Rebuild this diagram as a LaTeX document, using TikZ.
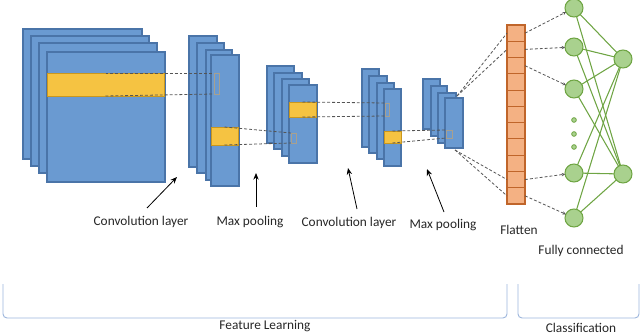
\documentclass[tikz,border=0pt]{standalone}
\usepackage{fontspec}
\setmainfont{Carlito}
\usetikzlibrary{arrows.meta,calc}
\definecolor{lblue}{HTML}{6A9AD1}
\definecolor{dblue}{HTML}{4A74A8}
\definecolor{yfill}{HTML}{F5C342}
\definecolor{ydraw}{HTML}{C9971E}
\definecolor{ofill}{HTML}{F4B183}
\definecolor{odraw}{HTML}{C0652A}
\definecolor{gfill}{HTML}{A9D18E}
\definecolor{gdraw}{HTML}{6FA544}
\definecolor{brk}{HTML}{9DB6DC}
\definecolor{hol}{HTML}{A8A08F}
\definecolor{dashc}{HTML}{555555}
\newcommand\pxbox[6]{\node[#1,anchor=north west,minimum width={(#5-#3)*0.75pt},minimum height={(#6-#4)*0.75pt}] (#2) at (#3,#4) {};}
\tikzset{
  map/.style={draw=dblue, fill=lblue, line width=0.8pt, inner sep=0pt, outer sep=0pt},
  band/.style={draw=ydraw, fill=yfill, line width=0.6pt, inner sep=0pt, outer sep=0pt},
  hollow/.style={draw=hol, line width=0.6pt, inner sep=0pt, outer sep=0pt},
  cell/.style={draw=odraw, fill=ofill, line width=0.8pt, inner sep=0pt, outer sep=0pt},
  neuron/.style={circle, draw=gdraw, fill=gfill, line width=0.8pt, minimum size=13.5pt, inner sep=0pt, outer sep=0pt},
  dotn/.style={circle, draw=gdraw, fill=gfill, line width=0.6pt, minimum size=3.5pt, inner sep=0pt},
  link/.style={draw=dashc, line width=0.6pt, dash pattern=on 2.2pt off 1.5pt},
  linkarr/.style={link, -{Stealth[length=2.5pt,width=2.5pt]}},
  syn/.style={draw=gdraw, line width=0.8pt},
  lbl/.style={font=\fontsize{10}{12}\selectfont, text=black!85, inner sep=0pt},
  ptr/.style={-{Stealth[length=5pt,width=4pt]}, line width=0.6pt},
  bracketline/.style={draw=brk, line width=0.7pt, rounded corners=3pt}
}
\begin{document}
\begin{tikzpicture}[x=0.75pt,y=-0.75pt]
\useasboundingbox (0,0) rectangle (640,335);
% stack 1
\pxbox{map}{a1}{23}{29}{142}{159}
\pxbox{map}{a2}{31}{36}{149}{166}
\pxbox{map}{a3}{39}{43}{157}{173}
\pxbox{map}{a4}{47}{52}{165}{182}
\pxbox{band}{ya}{47}{73}{164}{96}
% stack 2
\pxbox{map}{b1}{189}{36}{217}{167}
\pxbox{map}{b2}{197}{43}{224}{173}
\pxbox{map}{b3}{206}{50}{232}{180}
\pxbox{map}{b4}{211}{55}{239}{186}
\pxbox{hollow}{hb}{214}{73}{219}{94}
\pxbox{band}{yb}{211}{127}{238}{145}
% stack 3
\pxbox{map}{c1}{267}{66}{294}{143}
\pxbox{map}{c2}{274}{73}{302}{149}
\pxbox{map}{c3}{282}{79}{309}{156}
\pxbox{map}{c4}{289}{85}{317}{163}
\pxbox{band}{yc}{289}{102}{316}{117}
\pxbox{hollow}{hc}{291}{133}{296}{143}
% stack 4
\pxbox{map}{d1}{362}{69}{379}{147}
\pxbox{map}{d2}{369}{76}{387}{153}
\pxbox{map}{d3}{377}{83}{394}{159}
\pxbox{map}{d4}{384}{89}{401}{166}
\pxbox{hollow}{hd}{385}{103}{389}{116}
\pxbox{band}{yd}{384}{131}{401}{143}
% stack 5
\pxbox{map}{e1}{423}{79}{440}{129}
\pxbox{map}{e2}{431}{86}{447}{136}
\pxbox{map}{e3}{438}{93}{456}{143}
\pxbox{map}{e4}{445}{98}{463}{148}
\pxbox{hollow}{he}{446}{130}{452}{138}
% dashed projections
\draw[link] (ya.north) -- (hb.north west);
\draw[link] (ya.south) -- (hb.south west);
\draw[link] (yb.north) -- (hc.north west);
\draw[link] (yb.south) -- (hc.south west);
\draw[link] (yc.north) -- (hd.north west);
\draw[link] (yc.south) -- (hd.south west);
\draw[link] (yd.north) -- (he.north west);
\draw[link] (yd.south) -- (he.south west);
% flatten
\foreach \i in {1,...,11}{
  \pgfmathsetmacro\ya{25+(\i-1)*16.27}
  \pgfmathsetmacro\yb{25+\i*16.27}
  \pxbox{cell}{f\i}{507}{\ya}{525}{\yb}
}
\coordinate (s5top) at (457,96);
\coordinate (s5bot) at (455,150);
\draw[link] (s5top) -- (f1.west);
\draw[link] (s5top) -- (f2.west);
\draw[link] (s5bot) -- (f10.west);
\draw[link] (s5bot) -- (f11.west);
% neurons
\node[neuron] (n1) at (574,8) {};
\node[neuron] (n2) at (574,47) {};
\node[neuron] (n3) at (574,89) {};
\node[neuron] (n4) at (574,173) {};
\node[neuron] (n5) at (574,218) {};
\node[dotn] (o1) at (574,120) {};
\node[dotn] (o2) at (574,134) {};
\node[dotn] (o3) at (574,147) {};
\node[neuron] (m1) at (623,59) {};
\node[neuron] (m2) at (623,174) {};
\foreach \i in {1,...,5}{
  \foreach \j in {1,2}{
    \draw[syn] (n\i) -- (m\j);
  }
}
\draw[linkarr] (f1.east) -- (n1);
\draw[linkarr] (f2.east) -- (n2);
\draw[linkarr] (f3.east) -- (n3);
\draw[linkarr] (f10.east) -- (n4);
\draw[linkarr] (f11.east) -- (n5);
% labels
\node[lbl] (l1) at (141,222) {Convolution layer};
\node[lbl] (l2) at (250,222) {Max pooling};
\node[lbl] (l3) at (349,223) {Convolution layer};
\node[lbl] (l4) at (443,225) {Max pooling};
\node[lbl] (l5) at (519,230) {Flatten};
\node[lbl] (l6) at (581,251) {Fully connected};
\node[lbl] (l7) at (265,326) {Feature Learning};
\node[lbl] (l8) at (581,328) {Classification};
% pointer arrows
\coordinate (p1s) at (147,208); \coordinate (p1e) at (177,177);
\coordinate (p2s) at (256,207); \coordinate (p2e) at (256,173);
\coordinate (p3s) at (357,209); \coordinate (p3e) at (348,168);
\coordinate (p4s) at (444,212); \coordinate (p4e) at (427,169);
\draw[ptr] (p1s) -- (p1e);
\draw[ptr] (p2s) -- (p2e);
\draw[ptr] (p3s) -- (p3e);
\draw[ptr] (p4s) -- (p4e);
% brackets
\draw[bracketline] (3,284) -- (3,318) -- (507,318) -- (507,284);
\draw[bracketline] (518,284) -- (518,318) -- (639,318) -- (639,284);
\end{tikzpicture}
\end{document}
